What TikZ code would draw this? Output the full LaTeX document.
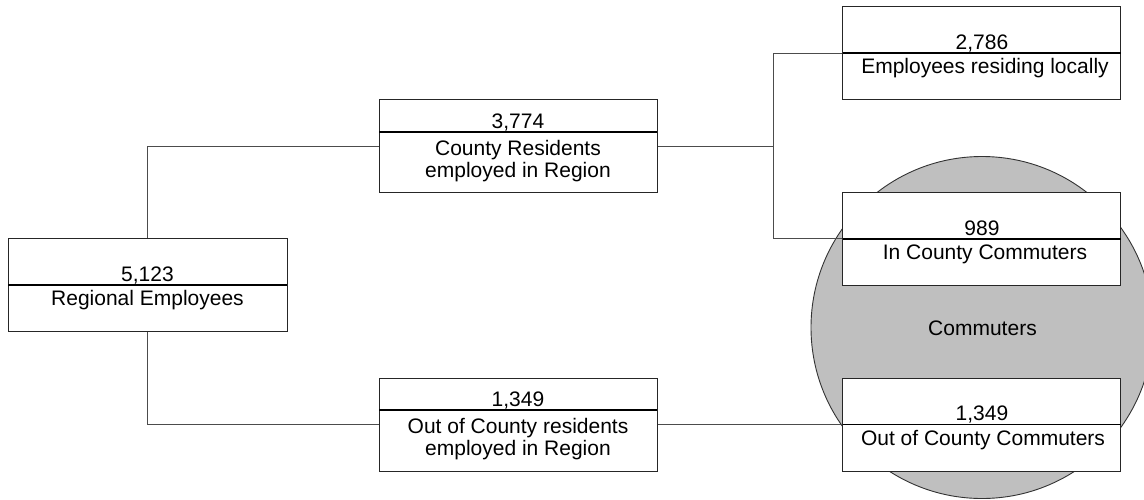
\documentclass[tikz,border=0pt]{standalone}
\usepackage{fontspec}
\setmainfont{Liberation Sans}
\begin{document}
\begin{tikzpicture}[x=1pt,y=-1pt,
  box/.style={draw=black!85, fill=white, line width=1pt, minimum width=278pt, minimum height=93pt, inner sep=0pt, outer sep=0pt},
  conn/.style={draw=black!70, line width=1pt},
  divider/.style={draw=black, line width=1.4pt},
  txt/.style={anchor=base, inner sep=0pt, font=\fontsize{21}{23}\selectfont},
  ring/.style={draw=black!80, fill=black!25, line width=0.9pt}]
\useasboundingbox (0,0) rectangle (1144,499);
% commuters circle
\node[ring, circle, minimum size=342pt, inner sep=0pt] (circ) at (982,327.5) {};
\node[txt] (commlbl) at (982.5,335.5) {Commuters};
% boxes
\node[box, minimum width=279pt] (reg) at (147.5,284.5) {};
\node[box] (cr) at (518,146) {};
\node[box] (er) at (981.5,53) {};
\node[box] (ic) at (981.5,238.5) {};
\node[box] (occ) at (981.5,424.5) {};
\node[box] (oc) at (518,424.5) {};
% connectors
\coordinate (j) at (773,146);
\draw[conn] (reg.north) |- (cr.west);
\draw[conn] (reg.south) |- (oc.west);
\draw[conn] (cr.east) -- (j);
\draw[conn] (j) |- (er.west);
\draw[conn] (j) |- (ic.west);
\draw[conn] (oc.east) -- (occ.west);
% redraw boxes over connectors
\foreach \b in {reg,cr,er,ic,occ,oc} {\draw[draw=black!85, line width=1pt] (\b.south west) rectangle (\b.north east);}
% dividers
\draw[divider] (reg.west |- 0,285) -- (reg.east |- 0,285);
\draw[divider] (cr.west |- 0,132) -- (cr.east |- 0,132);
\draw[divider] (er.west |- 0,53) -- (er.east |- 0,53);
\draw[divider] (ic.west |- 0,239) -- (ic.east |- 0,239);
\draw[divider] (occ.west |- 0,424.5) -- (occ.east |- 0,424.5);
\draw[divider] (oc.west |- 0,410) -- (oc.east |- 0,410);
% texts
\node[txt] (regn) at (147.5,281) {5,123};
\node[txt] (regl) at (147.5,305) {Regional Employees};
\node[txt] (crn) at (518,128) {3,774};
\node[txt] (crl1) at (518,155) {County Residents};
\node[txt] (crl2) at (518,177.5) {employed in Region};
\node[txt] (ern) at (982,49.5) {2,786};
\node[txt] (erl) at (985,73.5) {Employees residing locally};
\node[txt] (icn) at (982,235) {989};
\node[txt] (icl) at (985,259.5) {In County Commuters};
\node[txt] (occn) at (982,420.5) {1,349};
\node[txt] (occl) at (983,445.5) {Out of County Commuters};
\node[txt] (ocn) at (518,406) {1,349};
\node[txt] (ocl1) at (518,433) {Out of County residents};
\node[txt] (ocl2) at (518,455.5) {employed in Region};
\end{tikzpicture}
\end{document}
